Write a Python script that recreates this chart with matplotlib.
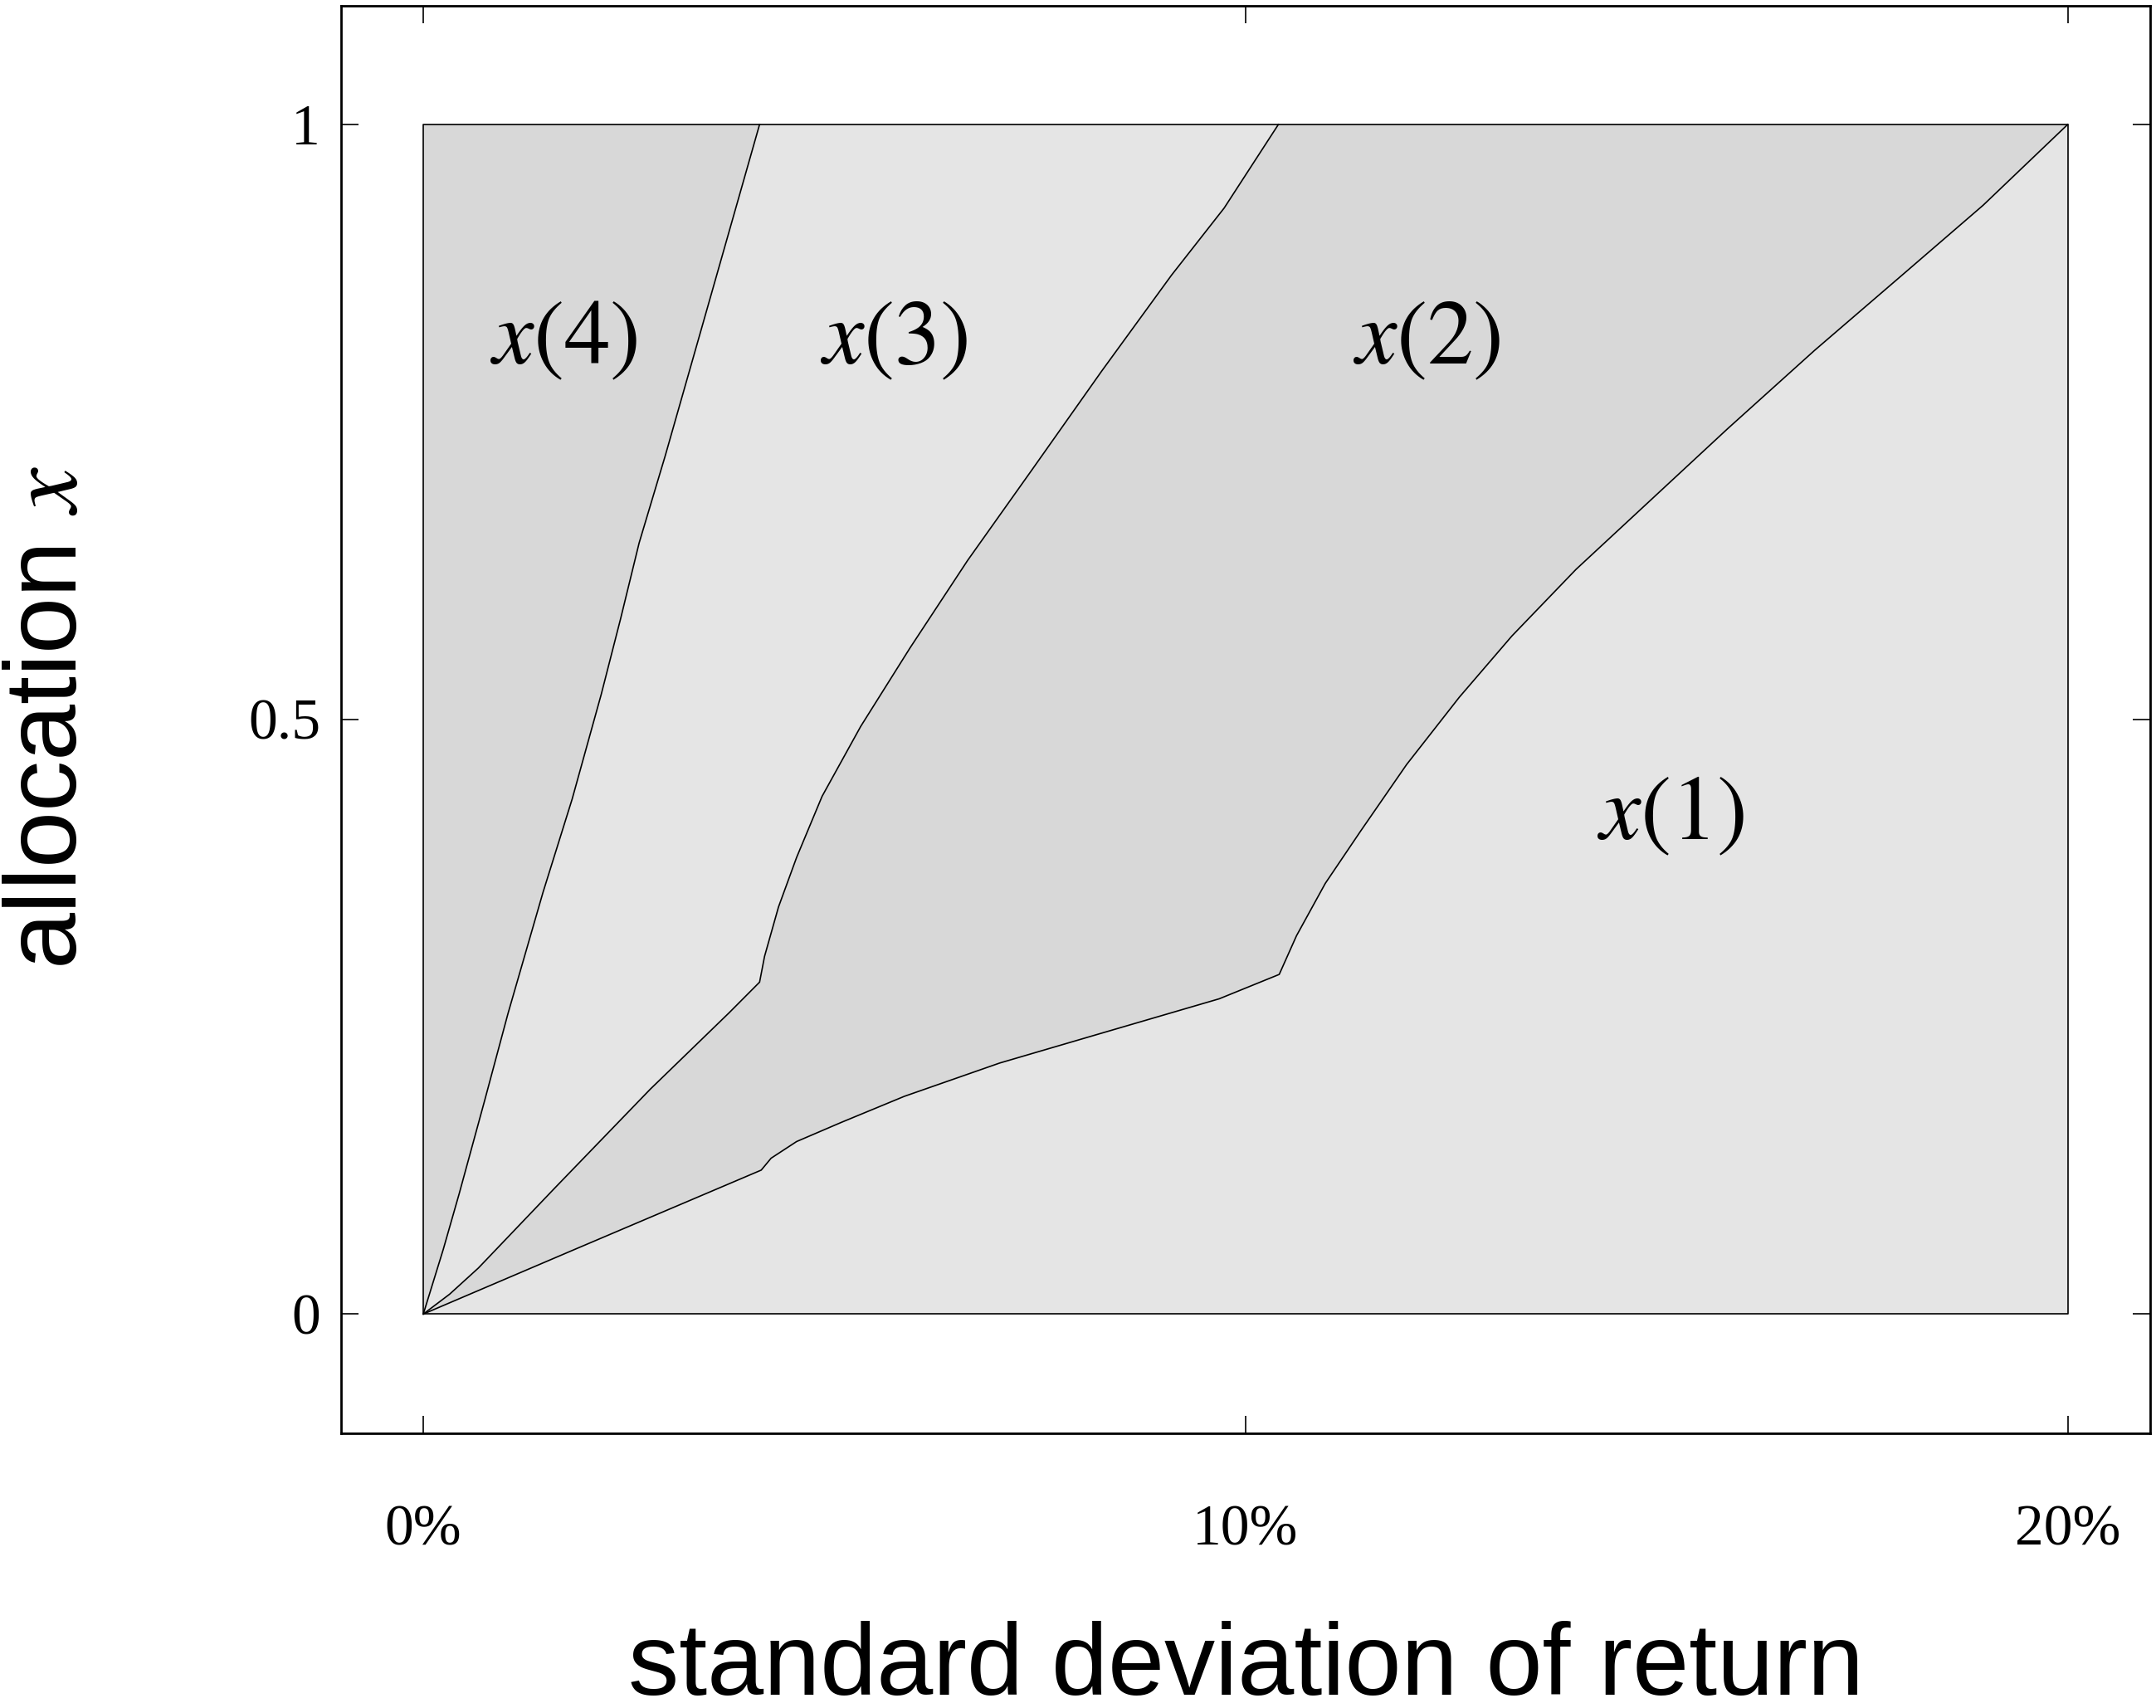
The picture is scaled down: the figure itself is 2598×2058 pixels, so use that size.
import matplotlib.pyplot as plt

plt.rcParams['mathtext.fontset'] = 'stix'

# boundary curves (cumulative allocation) vs standard deviation of return
sd_b1 = [0, 0.0183, 0.0411, 0.0423, 0.0454, 0.0508, 0.0585, 0.0701, 0.0817, 0.0968,
         0.1041, 0.1062, 0.1097, 0.1140, 0.1196, 0.1260, 0.1324, 0.1402, 0.1494,
         0.1586, 0.1692, 0.1798, 0.1897, 0.2]
x_b1 = [0, 0.054, 0.121, 0.131, 0.145, 0.161, 0.183, 0.211, 0.2345, 0.265,
        0.2855, 0.318, 0.362, 0.406, 0.462, 0.5185, 0.570, 0.626, 0.685,
        0.744, 0.810, 0.873, 0.932, 1.0]

sd_b2 = [0, 0.0032, 0.0067, 0.0160, 0.0276, 0.0372, 0.0409, 0.0415, 0.0432, 0.0454,
         0.0485, 0.0532, 0.0592, 0.0662, 0.0740, 0.0825, 0.0910, 0.0974, 0.104]
x_b2 = [0, 0.0167, 0.0387, 0.106, 0.189, 0.2533, 0.279, 0.3006, 0.3422, 0.3838,
        0.4352, 0.494, 0.560, 0.6335, 0.7094, 0.7926, 0.8733, 0.9297, 1.0]

sd_b3 = [0, 0.00243, 0.00437, 0.00747, 0.0103, 0.01456, 0.0181, 0.02164, 0.0240,
         0.02625, 0.02943, 0.03367, 0.0409]
x_b3 = [0, 0.0544, 0.1013, 0.1797, 0.2526, 0.3545, 0.4328, 0.5209, 0.5846,
        0.6482, 0.7216, 0.8244, 1.0]

region_labels = ['$x(1)$', '$x(2)$', '$x(3)$', '$x(4)$']
label_pos = [(0.1517, 0.42), (0.122, 0.82), (0.0572, 0.82), (0.0171, 0.82)]

light = '#e5e5e5'
dark = '#d8d8d8'

fig = plt.figure(figsize=(12.99, 10.29), dpi=200)
ax = fig.add_axes([0.1582, 0.161, 0.839, 0.8358])

ax.fill([0, 0.2, 0.2, 0], [0, 0, 1, 1], color=light, lw=0)
ax.fill(sd_b1 + [0.104] + sd_b2[::-1], x_b1 + [1.0] + x_b2[::-1], color=dark, lw=0)
ax.fill(sd_b3 + [0], x_b3 + [1.0], color=dark, lw=0)

for sd, xx in [(sd_b1, x_b1), (sd_b2, x_b2), (sd_b3, x_b3)]:
    ax.plot(sd, xx, color='black', lw=0.6)
ax.plot([0, 0.2, 0.2, 0, 0], [0, 0, 1, 1, 0], color='black', lw=0.6)

for lab, (px, py) in zip(region_labels, label_pos):
    ax.text(px, py, lab, fontsize=40, ha='center', va='center')

ax.set_xlim(-0.01, 0.21)
ax.set_ylim(-0.1, 1.1)
ax.set_xticks([0, 0.1, 0.2])
ax.set_xticklabels(['0%', '10%', '20%'], family='Liberation Serif', fontsize=25)
ax.set_yticks([0, 0.5, 1])
ax.set_yticklabels(['0', '0.5', '1'], family='Liberation Serif', fontsize=25)
ax.tick_params(axis='x', direction='in', length=7.5, width=0.6, pad=31,
               top=True, bottom=True)
ax.tick_params(axis='y', direction='in', length=7.5, width=0.6, pad=9,
               left=True, right=True)
for s in ax.spines.values():
    s.set_linewidth(1.0)

fig.text(0.578, 0.0078, 'standard deviation of return', family='Liberation Sans',
         fontsize=44, ha='center', va='baseline')
fig.text(0.023, 0.580, 'allocation $x$', family='Liberation Sans',
         fontsize=44, ha='center', va='center', rotation=90)

fig.savefig('out.png', dpi=200)
